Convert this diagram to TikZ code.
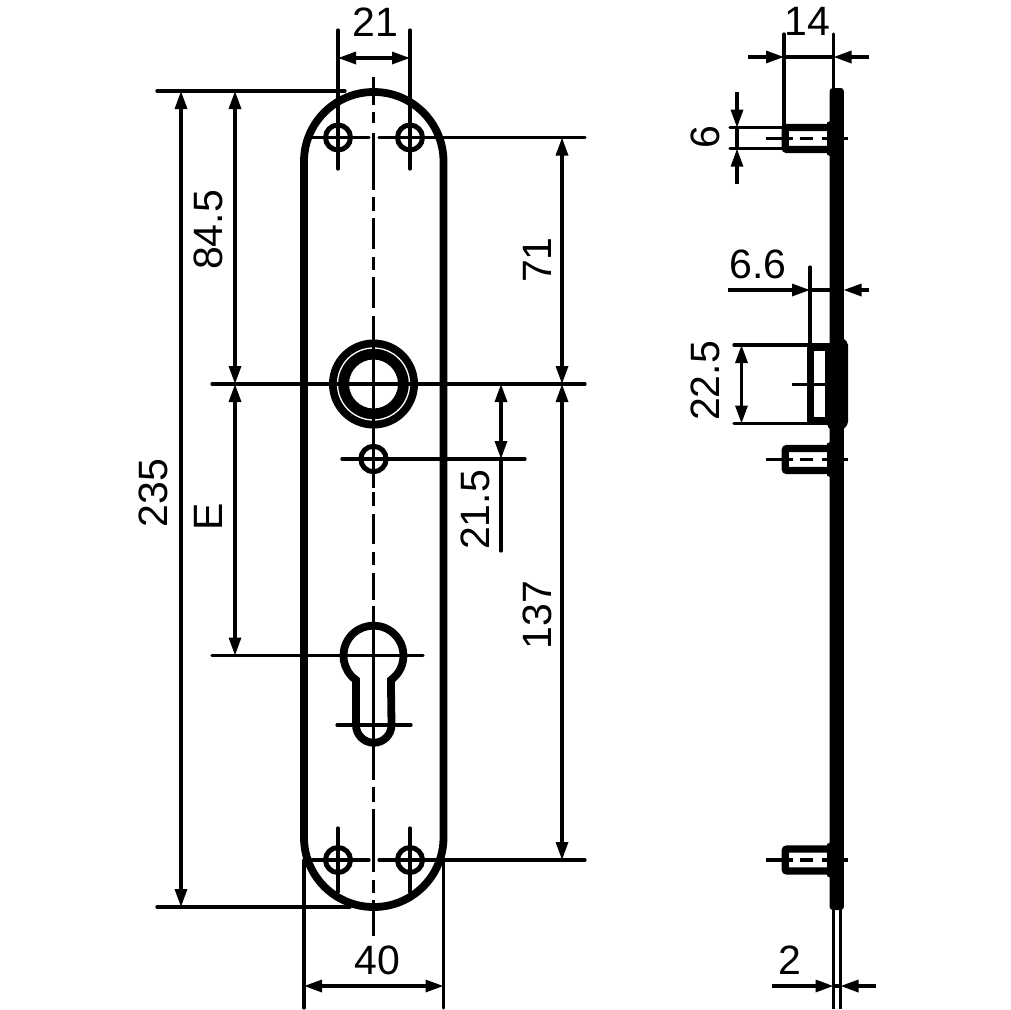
\documentclass[tikz,border=0pt]{standalone}
\usepackage{fontspec}
\setmainfont{Liberation Sans}
\usetikzlibrary{arrows.meta}
\tikzset{
  thin line/.style={line width=3.2pt,line cap=round,black},
  center line/.style={line width=3.6pt,line cap=round,black},
  outline/.style={line width=7.8pt,black,line join=round},
  hole/.style={line width=5pt,black},
  dim both/.style={line width=3.2pt,black,{Triangle[length=18pt,width=12pt]}-{Triangle[length=18pt,width=12pt]}},
  dim end/.style={line width=3.2pt,black,-{Triangle[length=18pt,width=12pt]}},
  lbl/.style={inner sep=0pt,font=\fontsize{41}{41}\selectfont},
  lblv/.style={lbl,rotate=90},
  solid part/.style={fill=black,draw=none}
}
\begin{document}
\begin{tikzpicture}[x=1pt,y=-1pt]
\useasboundingbox[fill=white] (0,0) rectangle (1010,1010);

% --- front view: plate
\draw[outline,rounded corners=69.5pt] (304,92) rectangle (443.5,907);

% screw holes
\foreach \hx/\hy in {338/137.5,410/137.5,338/860,410/860}
  \draw[hole] (\hx,\hy) circle[radius=12.5];
\draw[hole] (373.5,459) circle[radius=12.7];

% rosette ring
\fill[black,even odd rule] (373.5,384) circle[radius=44.5] (373.5,384) circle[radius=24.5];
\draw[white,line width=1.3pt] (373.5,384) circle[radius=36];

% cylinder cut-out
\draw[outline,line join=miter]
  (356,680) arc[start angle=125.6,end angle=414.4,radius=30]
  -- (391.5,725) arc[start angle=0,end angle=180,radius=17.75] -- cycle;

% centre line
\foreach \ya/\yb in {77/105,112/123,133/190,197/211,218/249,257/270,277/308,316/488,
                     492/506,514/544,552/565,573/600,606/780,787/802,809/872,880/893,900/936}
  \draw[center line,line cap=butt] (373.5,\ya) -- (373.5,\yb);

% horizontal centre and extension lines
\draw[thin line] (310,137.5) -- (369,137.5);
\draw[thin line] (379,137.5) -- (585,137.5);
\draw[thin line] (310,860) -- (369,860);
\draw[thin line] (379,860) -- (585,860);
\draw[thin line] (212,384) -- (585,384);
\draw[thin line] (342,459) -- (525,459);
\draw[thin line] (212,655.5) -- (423,655.5);
\draw[thin line] (337,725) -- (411,725);
\draw[thin line] (157,91) -- (345,91);
\draw[thin line] (157,907) -- (350,907);

% vertical extension lines
\draw[thin line] (338,30) -- (338,169);
\draw[thin line] (410,30) -- (410,169);
\draw[thin line] (338,828) -- (338,892);
\draw[thin line] (410,828) -- (410,892);
\draw[thin line] (304,860) -- (304,1008);
\draw[thin line] (443.5,860) -- (443.5,1008);
\draw[thin line] (501,459) -- (501,551);

% dimensions, front view
\draw[dim both] (338,58) -- (410,58);
\draw[dim both] (181,91) -- (181,907);
\draw[dim both] (235,91) -- (235,384);
\draw[dim both] (235,384) -- (235,655.5);
\draw[dim both] (562,137.5) -- (562,384);
\draw[dim both] (562,384) -- (562,860);
\draw[dim both] (501,384) -- (501,459);
\draw[dim both] (304,986) -- (443.5,986);

\node[lbl] (t21) at (375.5,22) {21};
\node[lblv] (t235) at (153.5,493) {235};
\node[lblv] (t845) at (208.5,230) {84.5};
\node[lblv] (tE) at (208.5,517) {E};
\node[lblv] (t71) at (537,260) {71};
\node[lblv] (t137) at (537,615) {137};
\node[lblv] (t215) at (475.5,510) {21.5};
\node[lbl] (t40) at (377.5,960) {40};

% --- side view: plate
\fill[black,rounded corners=3pt] (829.7,88) rectangle (843.8,910);
\fill[solid part,rounded corners=2pt] (827,345.5) -- (830,342) -- (843,338) -- (848,343) -- (848,424)
   -- (843,430) -- (830,430) -- (827,425) -- cycle;
\draw[thin line,line cap=butt] (833.5,910) -- (833.5,1009);
\draw[thin line,line cap=butt] (840.5,910) -- (840.5,1009);

% lugs
\foreach \cy in {138.5,459.5,860}{
  \draw[line width=7.4pt,black,rounded corners=2pt] (830,\cy-11) -- (785.2,\cy-11) -- (785.2,\cy+11) -- (830,\cy+11);
  \fill[solid part] (827,\cy-16) -- (831,\cy-18) -- (831,\cy+18) -- (827,\cy+16) -- cycle;
  \draw[center line,line cap=butt] (766,\cy) -- (793,\cy);
  \draw[center line,line cap=butt] (800,\cy) -- (813,\cy);
  \draw[center line,line cap=butt] (822,\cy) -- (830,\cy);
  \draw[center line,line cap=butt] (843,\cy) -- (848,\cy);
}

% centre block
\draw[line width=7.6pt,black] (810.5,347.5) rectangle (829,421);
\draw[center line,line cap=butt] (792,384.5) -- (830,384.5);

% extension lines, side view
\draw[thin line] (784,34) -- (784,128);
\draw[thin line] (833.5,34) -- (833.5,90);
\draw[thin line] (810,267) -- (810,345);
\draw[thin line] (730,127.7) -- (785,127.7);
\draw[thin line] (730,148.7) -- (785,148.7);
\draw[thin line] (734,345) -- (830,345);
\draw[thin line] (734,423.5) -- (830,423.5);

% dimensions, side view
\draw[dim end] (748,57) -- (784,57);
\draw[dim end] (869,57) -- (833.5,57);
\draw[thin line] (784,57) -- (833.5,57);
\draw[dim end] (737,92) -- (737,127.7);
\draw[dim end] (737,184) -- (737,148.7);
\draw[thin line] (737,127.7) -- (737,148.7);
\draw[dim end] (728,290) -- (810,290);
\draw[dim end] (869,290) -- (843.5,290);
\draw[thin line] (810,290) -- (830,290);
\draw[dim both] (741.5,345) -- (741.5,423.5);
\draw[dim end] (772,986) -- (833.5,986);
\draw[dim end] (876,986) -- (840.5,986);
\draw[thin line] (833.5,986) -- (840.5,986);

\node[lbl] (t14) at (807,21) {14};
\node[lblv] (t6) at (705,137.5) {6};
\node[lbl] (t66) at (758,264) {6.6};
\node[lblv] (t225) at (705,381) {22.5};
\node[lbl] (t2) at (790,960) {2};
\end{tikzpicture}
\end{document}
